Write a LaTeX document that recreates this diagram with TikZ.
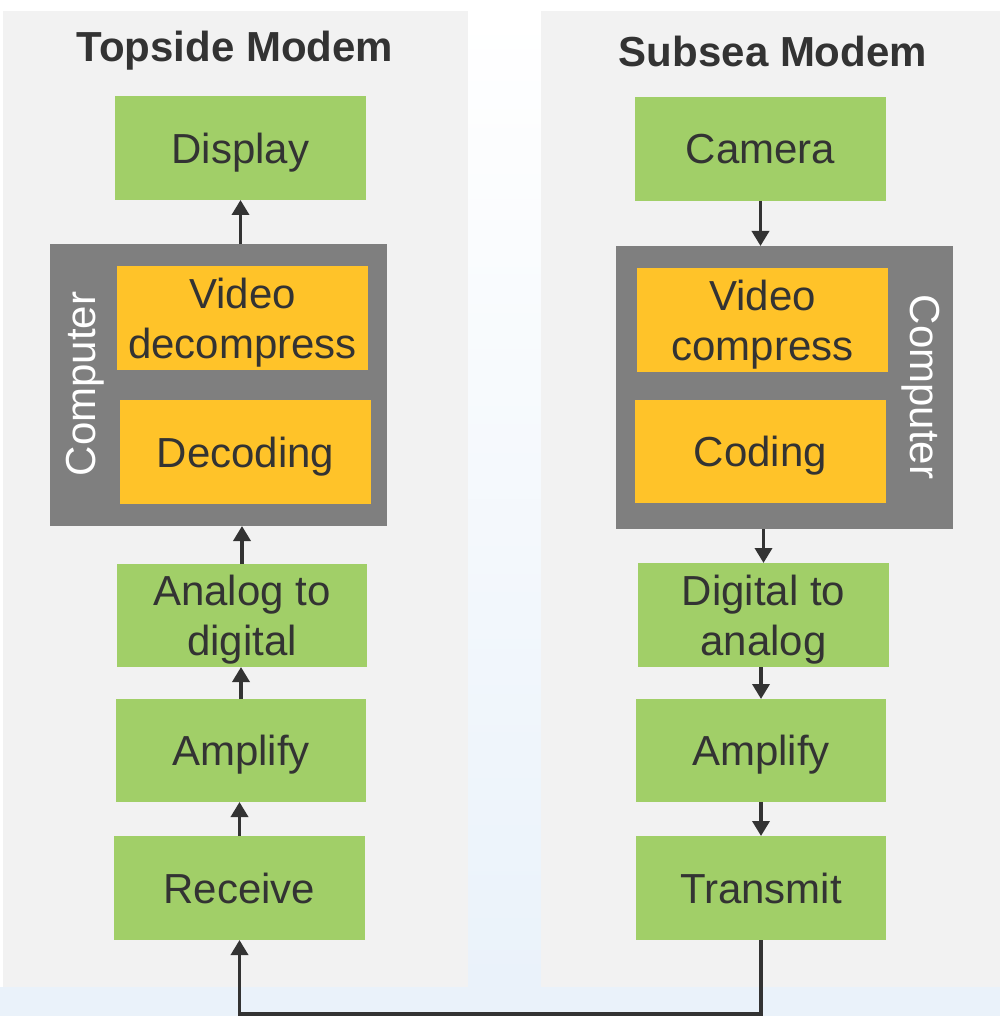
\documentclass[tikz,border=0pt]{standalone}
\usepackage{fontspec}
\setmainfont{Liberation Sans}
\usetikzlibrary{arrows.meta}

\definecolor{panelgray}{HTML}{F2F2F2}
\definecolor{boxgreen}{HTML}{A1CF68}
\definecolor{boxorange}{HTML}{FFC329}
\definecolor{cpugray}{HTML}{7F7F7F}
\definecolor{textgray}{HTML}{333333}
\definecolor{seablue}{HTML}{EAF2FA}

\begin{document}
\begin{tikzpicture}[x={(1pt,0pt)}, y={(0pt,-1pt)},
    inner sep=0pt, outer sep=0pt,
    panel/.style={fill=panelgray},
    block/.style={fill=#1, text=textgray, align=center, text depth=0pt,
        minimum width=251pt, minimum height=104pt,
        font=\fontsize{42}{50}\selectfont},
    cpu/.style={fill=cpugray, minimum width=337pt, minimum height=282pt},
    cpulabel/.style={text=white, font=\fontsize{42}{50}\selectfont},
    title/.style={text=textgray, font=\fontsize{42}{50}\selectfont\bfseries},
    %Option for arrows
    link/.style={line width=3.5pt, draw=textgray,
        -{Triangle[width=17pt,length=15pt]}},
]
    % Background
    \useasboundingbox (0,0) rectangle (1000,1016);
    \fill[white] (0,0) rectangle (1000,1016);
    \shade[top color=white, bottom color=seablue] (468,11) rectangle (541,987);
    \fill[seablue] (0,987) rectangle (1000,1016);
    \fill[panel] (3,11) rectangle (468,987);
    \fill[panel] (541,11) rectangle (1000,987);

    % Topside modem
    \node[title] (topside) at (235,51) {Topside Modem};
    \node[block=boxgreen] (display) at (240.5,148) {Display};
    \node[cpu] (compL) at (218.5,385) {};
    \node[cpulabel, rotate=90] (compLlabel) at (85,384) {Computer};
    \node[block=boxorange] (vdecomp) at (242.5,318) {Video\\decompress};
    \node[block=boxorange] (decoding) at (245.5,452) {Decoding};
    \node[block=boxgreen, minimum width=250pt, minimum height=103pt] (atod) at (242,615.5) {Analog to\\digital};
    \node[block=boxgreen, minimum width=250pt, minimum height=103pt] (ampL) at (241,750.5) {Amplify};
    \node[block=boxgreen] (receive) at (239.5,888) {Receive};

    % Subsea modem
    \node[title] (subsea) at (773,51) {Subsea Modem};
    \node[block=boxgreen] (camera) at (760.5,149) {Camera};
    \node[cpu, minimum height=283pt] (compR) at (784.5,387.5) {};
    \node[cpulabel, rotate=-90] (compRlabel) at (921,387) {Computer};
    \node[block=boxorange] (vcomp) at (762.5,320) {Video\\compress};
    \node[block=boxorange, minimum height=103pt] (coding) at (760.5,451.5) {Coding};
    \node[block=boxgreen] (dtoa) at (763.5,615) {Digital to\\analog};
    \node[block=boxgreen, minimum width=250pt, minimum height=103pt] (ampR) at (761,750.5) {Amplify};
    \node[block=boxgreen, minimum width=250pt] (transmit) at (761,888) {Transmit};

    % Receive chain
    \draw[link] (receive.north) -- (receive.north |- ampL.south);
    \draw[link] (ampL.north) -- (ampL.north |- atod.south);
    \draw[link] (atod.north) -- (atod.north |- compL.south);
    \draw[link] (display.south |- compL.north) -- (display.south);

    % Transmit chain
    \draw[link] (camera.south) -- (camera.south |- compR.north);
    \draw[link] (dtoa.north |- compR.south) -- (dtoa.north);
    \draw[link] (ampR.north |- dtoa.south) -- (ampR.north);
    \draw[link] (ampR.south) -- (ampR.south |- transmit.north);

    % Acoustic link
    \coordinate (seabed) at (0,1014);
    \draw[link] (transmit.south) -- (transmit.south |- seabed) -| (receive.south);
\end{tikzpicture}
\end{document}
